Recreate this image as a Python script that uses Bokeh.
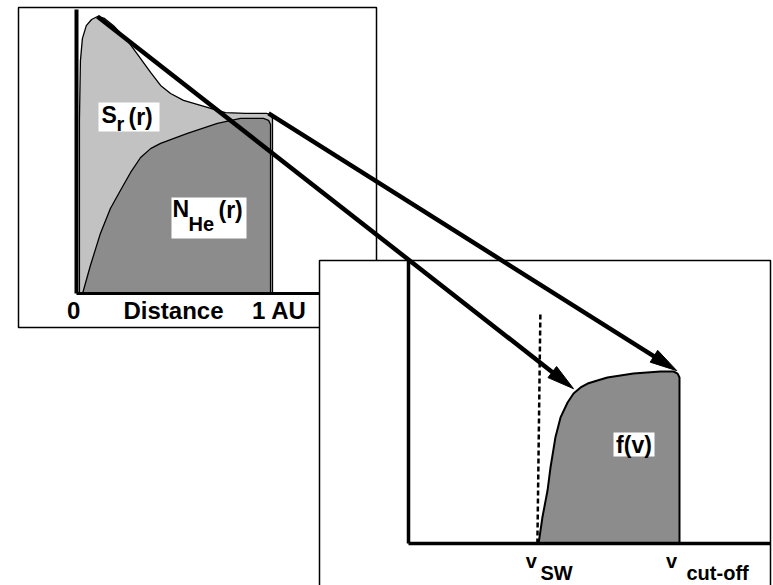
import math
from bokeh.plotting import figure
from bokeh.models import Range1d
from bokeh.core.properties import value
from bokeh.embed import file_html
from bokeh.resources import INLINE

# ---------------- data (panel units) ----------------
# left panel: r in AU (0..1), values normalised to peak of S_r
sr_r = [0.015, 0.015, 0.02, 0.03, 0.05, 0.077, 0.107, 0.143, 0.189, 0.26, 0.316, 0.378,
        0.429, 0.48, 0.546, 0.633, 0.719, 0.76, 0.862, 0.969, 0.99, 1.0, 1.0]
sr_val = [0.0, 0.625, 0.84, 0.92, 0.967, 0.989, 1.0, 0.993, 0.967, 0.913, 0.859, 0.798,
          0.751, 0.722, 0.697, 0.679, 0.661, 0.653, 0.65, 0.65, 0.646, 0.632, 0.0]
nhe_r = [0.031, 0.071, 0.122, 0.173, 0.224, 0.276, 0.327, 0.378, 0.429, 0.566, 0.719,
         0.837, 0.954, 0.98, 0.99, 0.99]
nhe_val = [0.0, 0.101, 0.217, 0.307, 0.372, 0.437, 0.491, 0.523, 0.542, 0.578, 0.614,
           0.632, 0.632, 0.625, 0.61, 0.0]
# right panel: v normalised to v_cut-off, f normalised to its maximum
fv_v = [0.48, 0.494, 0.513, 0.524, 0.542, 0.561, 0.587, 0.609, 0.635, 0.661, 0.697,
        0.734, 0.83, 0.93, 0.978, 0.993, 1.0, 1.0]
fv_f = [0.0, 0.151, 0.308, 0.442, 0.616, 0.733, 0.82, 0.872, 0.907, 0.93, 0.948,
        0.965, 0.988, 1.0, 1.0, 0.988, 0.965, 0.0]
v_sw = 0.483
v_sw_line_top = 1.343

left_ticks = ["0", "Distance", "1 AU"]
left_tick_pos = [-0.015, 0.495, 1.035]

# arrows: (r, S) in left panel -> (v, f) in right panel
arrow_from = [(0.107, 1.0), (0.98, 0.65)]
arrow_to = [(0.609, 0.90), (0.99, 1.005)]

# ---------------- layout ----------------
LX0, LY0, LSX, LSY = 76, 293, 196, 277
RX0, RY0, RSX, RSY = 408, 543, 271, 172
W, H = 773, 585


def L(xs, ys):
    return [LX0 + LSX * x for x in xs], [LY0 - LSY * y for y in ys]


def R(xs, ys):
    return [RX0 + RSX * x for x in xs], [RY0 - RSY * y for y in ys]


FONT = value("Liberation Sans")
LIGHT = "#c2c2c2"
DARK = "#8c8c8c"

p = figure(width=W, height=H, x_range=Range1d(0, W), y_range=Range1d(H, 0),
           output_backend="svg", toolbar_location=None, min_border=0,
           x_axis_location=None, y_axis_location=None)
p.grid.visible = False
p.outline_line_color = None
p.background_fill_color = "white"
p.border_fill_color = "white"

# left frame
p.quad(left=[18], right=[376], top=[7], bottom=[327], fill_color="white",
       line_color="black", line_width=1.5)

# S_r area and N_He area
sx, sy = L(sr_r, sr_val)
p.patch(sx, sy, fill_color=LIGHT, line_color="black", line_width=1.3)
nx, ny = L(nhe_r, nhe_val)
p.patch(nx, ny, fill_color=DARK, line_color="black", line_width=1.3)

# left axes
p.line([LX0, LX0], [9, LY0], line_color="black", line_width=4)
p.line([LX0, 319], [LY0, LY0], line_color="black", line_width=3)

# right frame
p.quad(left=[319], right=[770], top=[260], bottom=[600], fill_color="white",
       line_color="black", line_width=1.5)

# f(v) area
fx, fy = R(fv_v, fv_f)
p.patch(fx, fy, fill_color=DARK, line_color="black", line_width=2)

# v_sw dashed line
dx, dy = R([v_sw, v_sw], [0, v_sw_line_top])
p.line([dx[0] - 2, dx[1] + 1], dy, line_color="black", line_width=2.5, line_dash="5 3")

# right axes
p.line([RX0, RX0], [260, RY0], line_color="black", line_width=3.5)
p.line([RX0, 770], [RY0, RY0], line_color="black", line_width=3.5)

# label boxes
p.quad(left=[98, 171, 613], right=[159, 246, 654], top=[102, 197, 432], bottom=[131, 238, 456],
       fill_color="white", line_color=None)

bold = dict(text_font=FONT, text_font_style="bold", text_color="black", text_baseline="middle")
# S_r(r)
p.text(x=[101], y=[114], text=["S"], text_font_size="23px", **bold)
p.text(x=[116], y=[123], text=["r"], text_font_size="20px", **bold)
p.text(x=[128], y=[116], text=["(r)"], text_font_size="23px", **bold)
# N_He(r)
p.text(x=[172], y=[208], text=["N"], text_font_size="23px", **bold)
p.text(x=[188], y=[223], text=["He"], text_font_size="20px", **bold)
p.text(x=[218], y=[209], text=["(r)"], text_font_size="23px", **bold)
# f(v)
p.text(x=[633.5], y=[444], text=["f(v)"], text_font_size="23px", text_align="center", **bold)

# left axis tick labels
tx, _ = L(left_tick_pos, [0] * 3)
p.text(x=tx, y=[310] * 3, text=left_ticks, text_font_size="24px", text_align="center", **bold)

# right axis labels
vx, _ = R([v_sw, 1.0], [0, 0])
p.text(x=[vx[0] - 8, vx[1] - 8], y=[560, 560], text=["v", "v"], text_font_size="20px",
       text_align="center", **bold)
p.text(x=[vx[0] + 1, vx[1] + 7], y=[572, 572], text=["SW", "cut-off"], text_font_size="20px",
       text_align="left", **bold)

# arrows (thick shaft + narrow filled head)
HEAD_LEN, HEAD_HALF = 27, 7
head_xs, head_ys = [], []
for (r0, s0), (v1, f1) in zip(arrow_from, arrow_to):
    ax, ay = L([r0], [s0])
    bx, by = R([v1], [f1])
    x0, y0, x1, y1 = ax[0], ay[0], bx[0], by[0]
    d = math.hypot(x1 - x0, y1 - y0)
    ux, uy = (x1 - x0) / d, (y1 - y0) / d
    bxh, byh = x1 - ux * HEAD_LEN, y1 - uy * HEAD_LEN
    p.line([x0, bxh + ux * 3], [y0, byh + uy * 3], line_color="black", line_width=4.5)
    head_xs.append([x1, bxh - uy * HEAD_HALF, bxh + uy * HEAD_HALF])
    head_ys.append([y1, byh + ux * HEAD_HALF, byh - ux * HEAD_HALF])
p.patches(head_xs, head_ys, fill_color="black", line_color="black", line_width=1)

open("out.html", "w").write(file_html(p, INLINE))
